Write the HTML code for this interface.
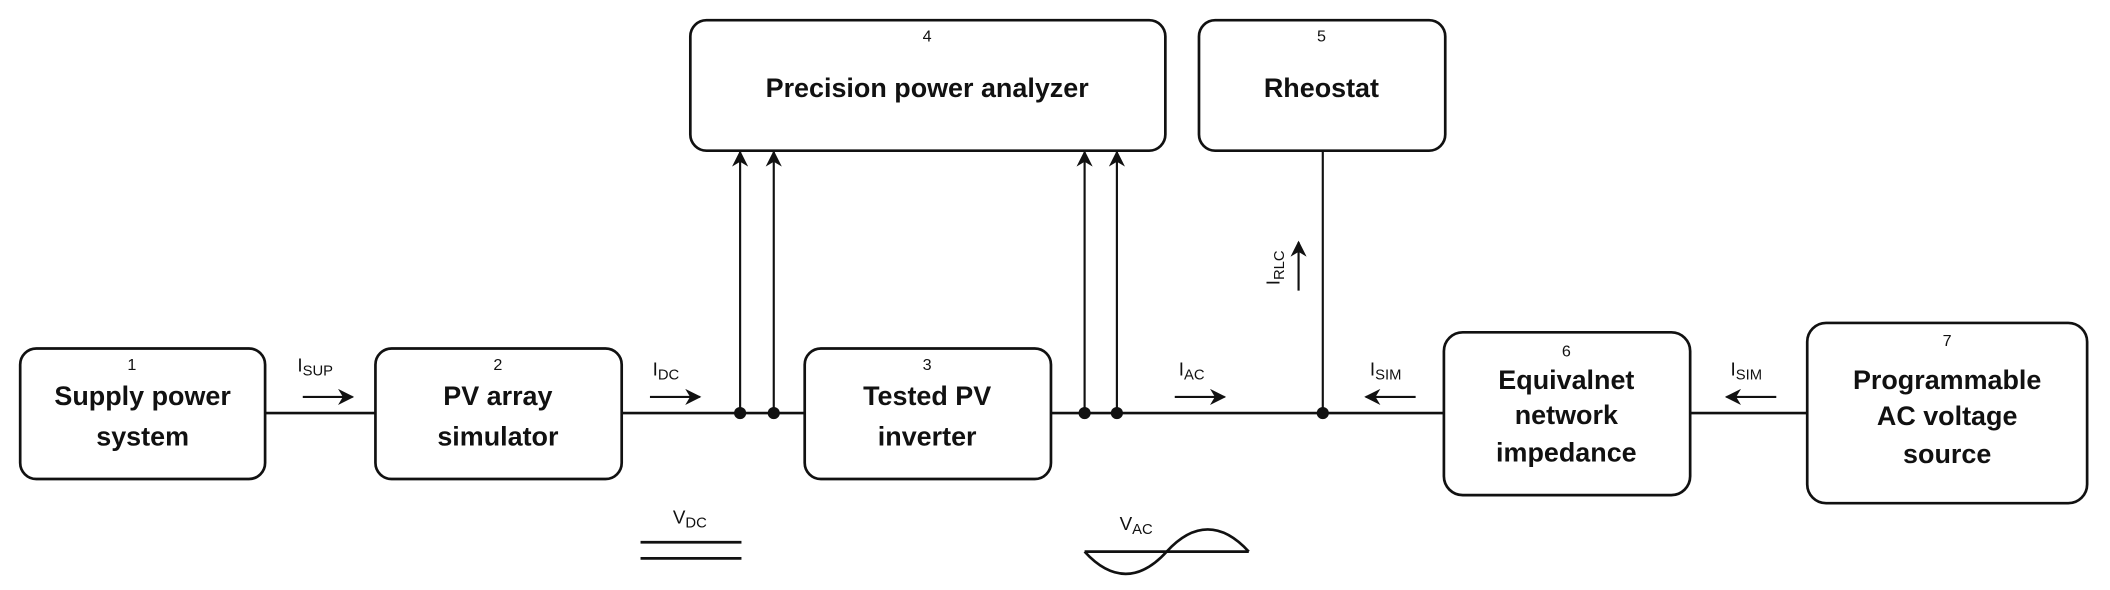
<!DOCTYPE html>
<html><head><meta charset="utf-8"><style>
html,body{margin:0;padding:0;background:#fff}
svg{display:block}
text{font-family:"Liberation Sans",Arial,sans-serif;fill:#111}
.t{font-weight:bold;font-size:20px;text-anchor:middle}
.n{font-size:12px;text-anchor:middle}
.l{font-size:14px}
.s{font-size:11px}
</style></head><body>
<svg width="2110" height="590" viewBox="0 0 1568 438.5" preserveAspectRatio="none" xmlns="http://www.w3.org/2000/svg">
<defs>
<marker id="b" viewBox="0 0 10 10" refX="9" refY="5" markerWidth="12" markerHeight="12" orient="auto" markerUnits="userSpaceOnUse">
<path d="M0,0 L10,5 L0,10 L3,5 z" fill="#111"/></marker>
</defs>
<g fill="none" stroke="#111" stroke-width="2">
<line x1="197" y1="307" x2="1343" y2="307"/>
<rect x="15" y="259" width="182" height="97" rx="12" fill="#fff"/>
<rect x="279" y="259" width="183" height="97" rx="12" fill="#fff"/>
<rect x="598" y="259" width="183" height="97" rx="12" fill="#fff"/>
<rect x="513" y="15" width="353" height="97" rx="12" fill="#fff"/>
<rect x="891" y="15" width="183" height="97" rx="12" fill="#fff"/>
<rect x="1073" y="247" width="183" height="121" rx="14" fill="#fff"/>
<rect x="1343" y="240" width="208" height="134" rx="14" fill="#fff"/>
</g>
<g stroke="#111" stroke-width="1.6" fill="none">
<line x1="550" y1="307" x2="550" y2="113" marker-end="url(#b)"/>
<line x1="575" y1="307" x2="575" y2="113" marker-end="url(#b)"/>
<line x1="806" y1="307" x2="806" y2="113" marker-end="url(#b)"/>
<line x1="830" y1="307" x2="830" y2="113" marker-end="url(#b)"/>
<line x1="983" y1="307" x2="983" y2="112"/>
<line x1="225" y1="295" x2="262" y2="295" marker-end="url(#b)"/>
<line x1="483" y1="295" x2="520" y2="295" marker-end="url(#b)"/>
<line x1="873" y1="295" x2="910" y2="295" marker-end="url(#b)"/>
<line x1="1052" y1="295" x2="1015" y2="295" marker-end="url(#b)"/>
<line x1="1320" y1="295" x2="1283" y2="295" marker-end="url(#b)"/>
<line x1="965" y1="216" x2="965" y2="180" marker-end="url(#b)"/>
<line x1="476" y1="403" x2="551" y2="403" stroke-width="2"/>
<line x1="476" y1="415" x2="551" y2="415" stroke-width="2"/>
<line x1="806" y1="410" x2="928" y2="410" stroke-width="2"/>
<path d="M806,410 C826,432 847,432 867,410 C887,388 908,388 928,410" stroke-width="2"/>
</g>
<g fill="#111">
<circle cx="550" cy="307" r="4.5"/><circle cx="575" cy="307" r="4.5"/>
<circle cx="806" cy="307" r="4.5"/><circle cx="830" cy="307" r="4.5"/>
<circle cx="983" cy="307" r="4.5"/>
</g>
<text class="n" x="98" y="275">1</text>
<text class="t" x="106" y="301">Supply power</text>
<text class="t" x="106" y="331">system</text>
<text class="n" x="370" y="275">2</text>
<text class="t" x="370" y="301">PV array</text>
<text class="t" x="370" y="331">simulator</text>
<text class="n" x="689" y="275">3</text>
<text class="t" x="689" y="301">Tested PV</text>
<text class="t" x="689" y="331">inverter</text>
<text class="n" x="689" y="31">4</text>
<text class="t" x="689" y="72">Precision power analyzer</text>
<text class="n" x="982" y="31">5</text>
<text class="t" x="982" y="72">Rheostat</text>
<text class="n" x="1164" y="265">6</text>
<text class="t" x="1164" y="289">Equivalnet</text>
<text class="t" x="1164" y="315">network</text>
<text class="t" x="1164" y="343">impedance</text>
<text class="n" x="1447" y="257">7</text>
<text class="t" x="1447" y="289">Programmable</text>
<text class="t" x="1447" y="316">AC voltage</text>
<text class="t" x="1447" y="344">source</text>
<text class="l" x="221" y="276">I<tspan class="s" dy="3">SUP</tspan></text>
<text class="l" x="485" y="279">I<tspan class="s" dy="3">DC</tspan></text>
<text class="l" x="876" y="279">I<tspan class="s" dy="3">AC</tspan></text>
<text class="l" x="1018" y="279">I<tspan class="s" dy="3">SIM</tspan></text>
<text class="l" x="1286" y="279">I<tspan class="s" dy="3">SIM</tspan></text>
<text class="l" x="500" y="389">V<tspan class="s" dy="3">DC</tspan></text>
<text class="l" x="832" y="394">V<tspan class="s" dy="3">AC</tspan></text>
<text class="l" transform="translate(951,212) rotate(-90)">I<tspan class="s" dy="3">RLC</tspan></text>
</svg>
</body></html>
